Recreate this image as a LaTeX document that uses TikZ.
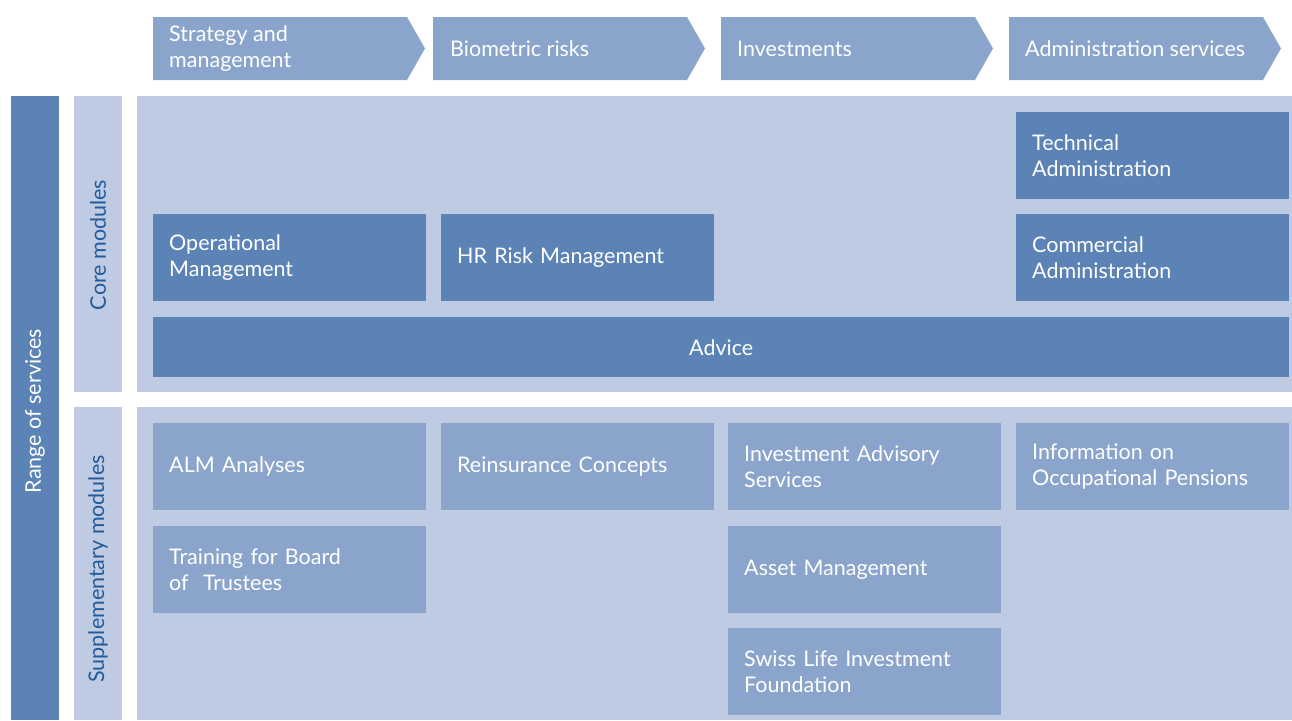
\documentclass[tikz,border=0pt]{standalone}
\usepackage{fontspec}
\setmainfont{Lato}
\definecolor{darkblue}{RGB}{91,131,181}
\definecolor{midblue}{RGB}{138,164,203}
\definecolor{paleblue}{RGB}{191,203,227}
\definecolor{labelblue}{RGB}{33,91,156}
\tikzset{
  txt/.style={font=\fontsize{21.5}{26}\selectfont},
  cell/.style={txt, anchor=north west, minimum width=273pt, minimum height=87pt,
    inner xsep=16pt, inner ysep=0pt, text width=241pt, align=left, text=white},
  core/.style={cell, fill=darkblue},
  supp/.style={cell, fill=midblue},
  phase/.style={fill=midblue},
  phasetext/.style={txt, anchor=west, text=white, align=left, inner sep=0pt},
  panel/.style={fill=paleblue},
  sidelabel/.style={txt, rotate=90, inner sep=0pt}
}
\begin{document}
\begin{tikzpicture}[x=1pt,y=-1pt]
\useasboundingbox (0,0) rectangle (1292,720);

% phase chevrons along the top
\foreach \x in {153,433,721,1009}{
  \fill[phase] (\x,17) -- ++(254,0) -- ++(18,31.5) -- ++(-18,31.5) -- ++(-254,0) -- cycle;
}
\node[phasetext] (p1) at (169,48.5) {Strategy and\\management};
\node[phasetext] (p2) at (450,48.5) {Biometric risks};
\node[phasetext] (p3) at (737,48.5) {Investments};
\node[phasetext] (p4) at (1025,48.5) {Administration services};

% side bars
\fill[darkblue] (11,96) rectangle (59,720);
\fill[panel] (74,96) rectangle (122,392);
\fill[panel] (74,407) rectangle (122,720);
\node[sidelabel, text=white] (range) at (35,411) {Range of services};
\node[sidelabel, text=labelblue] (corelbl) at (98,245) {Core modules};
\node[sidelabel, text=labelblue] (supplbl) at (98,569) {Supplementary modules};

% module panels
\fill[panel] (137,96) rectangle (1292,392);
\fill[panel] (137,407) rectangle (1292,720);

% core modules
\node[core] (tech) at (1016,112) {Technical\\Administration};
\node[core] (opm) at (153,214) {Operational\\Management};
\node[core] (hr) at (441,214) {HR Risk Management};
\node[core] (comm) at (1016,214) {Commercial\\Administration};
\node[core, minimum width=1136pt, minimum height=60pt, text width=1104pt, align=center] (advice) at (153,317) {Advice};

% supplementary modules
\node[supp] (alm) at (153,423) {ALM Analyses};
\node[supp] (reins) at (441,423) {Reinsurance Concepts};
\node[supp] (iadv) at (728,423) {Investment Advisory\\Services};
\node[supp] (info) at (1016,423) {Information on\\Occupational Pensions};
\node[supp] (train) at (153,526) {Training for Board\\of\ \ Trustees};
\node[supp] (asset) at (728,526) {Asset Management};
\node[supp] (slif) at (728,628) {Swiss Life Investment\\Foundation};
\end{tikzpicture}
\end{document}
